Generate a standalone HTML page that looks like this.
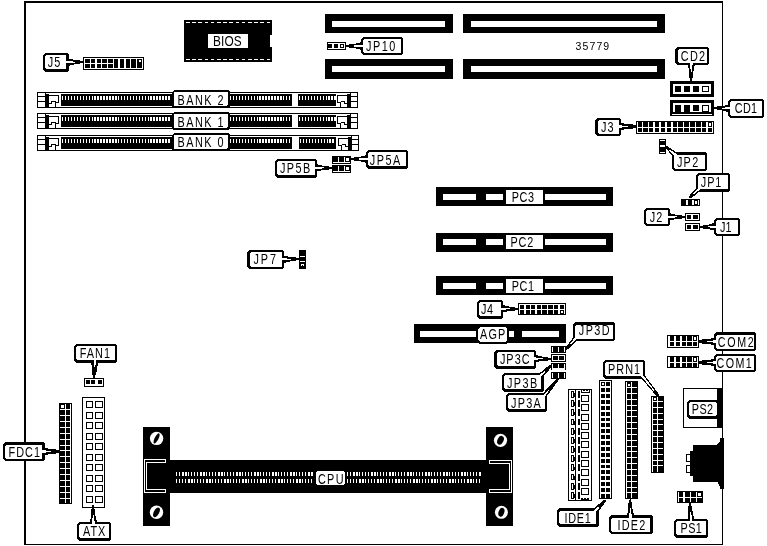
<!DOCTYPE html>
<html><head><meta charset="utf-8"><title>Motherboard layout</title>
<style>html,body{margin:0;padding:0;background:#fff}svg{display:block;will-change:transform}</style></head><body>
<svg width="767" height="546" viewBox="0 0 767 546" shape-rendering="crispEdges">
<rect x="0" y="0" width="767" height="546" fill="#fff"/>
<rect x="24" y="1" width="699" height="544" fill="#000"/>
<rect x="26" y="3" width="696" height="541" fill="#fff"/>
<rect x="184" y="20" width="88" height="42" fill="#000"/>
<rect x="270" y="35" width="2" height="12" fill="#fff"/>
<line x1="186" y1="22.5" x2="270" y2="22.5" stroke="#fff" stroke-width="1" stroke-dasharray="3.6 2.6"/>
<line x1="186" y1="59.5" x2="270" y2="59.5" stroke="#fff" stroke-width="1" stroke-dasharray="3.6 2.6"/>
<rect x="208" y="34" width="40" height="14" fill="#fff"/>
<text transform="translate(213 45.6) scale(0.85 1)" font-size="14" letter-spacing="0.1" fill="#000" text-anchor="start" font-family="Liberation Sans, sans-serif">BIOS</text>
<rect x="325" y="14" width="128" height="19" fill="#000"/>
<rect x="332" y="21" width="113" height="6" fill="#fff"/>
<rect x="325" y="59" width="128" height="20" fill="#000"/>
<rect x="332" y="66" width="113" height="6" fill="#fff"/>
<rect x="463" y="14" width="202" height="19" fill="#000"/>
<rect x="471" y="21" width="186" height="6" fill="#fff"/>
<rect x="463" y="59" width="202" height="20" fill="#000"/>
<rect x="471" y="66" width="186" height="6" fill="#fff"/>
<text transform="translate(575.6 49.7) scale(1 1)" font-size="10.5" letter-spacing="1.1" fill="#000" text-anchor="start" font-family="Liberation Sans, sans-serif">35779</text>
<rect x="327" y="42" width="19" height="8" fill="#000"/>
<rect x="328" y="43" width="17" height="6" fill="#fff"/>
<rect x="328" y="44" width="4" height="4" fill="#000"/>
<rect x="334" y="44" width="4" height="4" fill="#000"/>
<rect x="340" y="44" width="4" height="4" fill="#000"/>
<rect x="341" y="45" width="2" height="2" fill="#fff"/>
<path d="M363 37H401L403 39V53L401 55H363L361 53V39Z" fill="#000"/>
<path d="M364 39H400L401 40V52L400 53H364L363 52V40Z" fill="#fff"/>
<polygon points="362,42.3 361,42.3 354.7,43.9 349.3,44 348.7,44.9 346,45 346,47 348.7,47.1 349.3,48 354.7,48.1 361,49.7 362,49.7" fill="#000"/>
<polygon points="364.4,44.75 361,44.9 354.4,45.5 354.4,46.5 361,47.1 364.4,47.25" fill="#fff"/>
<text transform="translate(366 51) scale(0.75 1)" font-size="14.5" letter-spacing="2.01" fill="#000" text-anchor="start" font-family="Liberation Sans, sans-serif">JP10</text>
<path d="M45 53H67L69 55V70L67 72H45L43 70V55Z" fill="#000"/>
<path d="M46 55H65L66 56V68L65 69H46L45 68V56Z" fill="#fff"/>
<polygon points="68,65.9 69,65.9 74.88,64.3 79.92,64.2 80.48,63.3 83,63.2 83,61.2 80.48,61.1 79.92,60.2 74.88,60.1 69,58.5 68,58.5" fill="#000"/>
<polygon points="65.6,63.45 69,63.3 75.16,62.7 75.16,61.7 69,61.1 65.6,60.95" fill="#fff"/>
<text transform="translate(47.8 67) scale(0.75 1)" font-size="14.5" letter-spacing="1.35" fill="#000" text-anchor="start" font-family="Liberation Sans, sans-serif">J5</text>
<rect x="83" y="57" width="61" height="13" fill="#000"/>
<rect x="84" y="58" width="59" height="11" fill="#fff"/>
<rect x="85" y="59" width="5" height="4" fill="#000"/>
<rect x="85" y="64" width="5" height="4" fill="#000"/>
<rect x="91" y="59" width="4" height="4" fill="#000"/>
<rect x="91" y="64" width="4" height="4" fill="#000"/>
<rect x="97" y="59" width="4" height="4" fill="#000"/>
<rect x="97" y="64" width="4" height="4" fill="#000"/>
<rect x="102" y="59" width="5" height="4" fill="#000"/>
<rect x="102" y="64" width="5" height="4" fill="#000"/>
<rect x="108" y="59" width="5" height="4" fill="#000"/>
<rect x="108" y="64" width="5" height="4" fill="#000"/>
<rect x="114" y="59" width="4" height="9" fill="#000"/>
<rect x="120" y="59" width="4" height="9" fill="#000"/>
<rect x="126" y="59" width="4" height="9" fill="#000"/>
<rect x="131" y="59" width="5" height="9" fill="#000"/>
<rect x="137" y="59" width="5" height="9" fill="#000"/>
<rect x="139" y="60" width="2" height="2" fill="#fff"/>
<rect x="37" y="92" width="321" height="16" fill="#000"/>
<rect x="38" y="93" width="319" height="14" fill="#fff"/>
<rect x="37" y="96" width="9" height="1" fill="#000"/>
<rect x="350" y="96" width="8" height="1" fill="#000"/>
<rect x="37" y="101" width="9" height="1" fill="#000"/>
<rect x="350" y="101" width="8" height="1" fill="#000"/>
<rect x="45" y="92" width="1" height="16" fill="#000"/>
<rect x="350" y="92" width="1" height="16" fill="#000"/>
<rect x="46" y="94" width="3" height="13" fill="#000"/>
<rect x="347" y="94" width="3" height="13" fill="#000"/>
<path d="M49 95.5H58.5V102.5H55.5V107M49 103.5H51.5V101H55.5" fill="none" stroke="#000" stroke-width="1"/>
<path d="M347 95.5H337.5V102.5H340.5V107M347 103.5H344.5V101H340.5" fill="none" stroke="#000" stroke-width="1"/>
<rect x="61" y="94" width="111" height="12" fill="#000"/>
<rect x="62" y="96" width="1" height="4" fill="#fff"/>
<rect x="65" y="96" width="1" height="4" fill="#fff"/>
<rect x="68" y="96" width="1" height="4" fill="#fff"/>
<rect x="71" y="96" width="1" height="4" fill="#fff"/>
<rect x="74" y="96" width="1" height="4" fill="#fff"/>
<rect x="77" y="96" width="1" height="4" fill="#fff"/>
<rect x="80" y="96" width="1" height="4" fill="#fff"/>
<rect x="83" y="96" width="1" height="4" fill="#fff"/>
<rect x="86" y="96" width="1" height="4" fill="#fff"/>
<rect x="89" y="96" width="1" height="4" fill="#fff"/>
<rect x="92" y="96" width="1" height="4" fill="#fff"/>
<rect x="94" y="96" width="2" height="4" fill="#fff"/>
<rect x="97" y="96" width="2" height="4" fill="#fff"/>
<rect x="100" y="96" width="2" height="4" fill="#fff"/>
<rect x="103" y="96" width="2" height="4" fill="#fff"/>
<rect x="106" y="96" width="2" height="4" fill="#fff"/>
<rect x="109" y="96" width="2" height="4" fill="#fff"/>
<rect x="112" y="96" width="2" height="4" fill="#fff"/>
<rect x="115" y="96" width="2" height="4" fill="#fff"/>
<rect x="118" y="96" width="1" height="4" fill="#fff"/>
<rect x="121" y="96" width="1" height="4" fill="#fff"/>
<rect x="124" y="96" width="1" height="4" fill="#fff"/>
<rect x="127" y="96" width="1" height="4" fill="#fff"/>
<rect x="130" y="96" width="1" height="4" fill="#fff"/>
<rect x="133" y="96" width="1" height="4" fill="#fff"/>
<rect x="136" y="96" width="1" height="4" fill="#fff"/>
<rect x="139" y="96" width="1" height="4" fill="#fff"/>
<rect x="142" y="96" width="1" height="4" fill="#fff"/>
<rect x="145" y="96" width="1" height="4" fill="#fff"/>
<rect x="148" y="96" width="1" height="4" fill="#fff"/>
<rect x="150" y="96" width="2" height="4" fill="#fff"/>
<rect x="153" y="96" width="2" height="4" fill="#fff"/>
<rect x="156" y="96" width="2" height="4" fill="#fff"/>
<rect x="159" y="96" width="2" height="4" fill="#fff"/>
<rect x="162" y="96" width="2" height="4" fill="#fff"/>
<rect x="165" y="96" width="2" height="4" fill="#fff"/>
<rect x="168" y="96" width="2" height="4" fill="#fff"/>
<rect x="229" y="94" width="63" height="12" fill="#000"/>
<rect x="230" y="96" width="1" height="4" fill="#fff"/>
<rect x="233" y="96" width="1" height="4" fill="#fff"/>
<rect x="236" y="96" width="1" height="4" fill="#fff"/>
<rect x="239" y="96" width="1" height="4" fill="#fff"/>
<rect x="242" y="96" width="1" height="4" fill="#fff"/>
<rect x="245" y="96" width="1" height="4" fill="#fff"/>
<rect x="248" y="96" width="1" height="4" fill="#fff"/>
<rect x="251" y="96" width="1" height="4" fill="#fff"/>
<rect x="254" y="96" width="1" height="4" fill="#fff"/>
<rect x="257" y="96" width="1" height="4" fill="#fff"/>
<rect x="259" y="96" width="2" height="4" fill="#fff"/>
<rect x="262" y="96" width="2" height="4" fill="#fff"/>
<rect x="265" y="96" width="2" height="4" fill="#fff"/>
<rect x="268" y="96" width="2" height="4" fill="#fff"/>
<rect x="271" y="96" width="2" height="4" fill="#fff"/>
<rect x="274" y="96" width="2" height="4" fill="#fff"/>
<rect x="277" y="96" width="2" height="4" fill="#fff"/>
<rect x="280" y="96" width="2" height="4" fill="#fff"/>
<rect x="283" y="96" width="1" height="4" fill="#fff"/>
<rect x="286" y="96" width="1" height="4" fill="#fff"/>
<rect x="289" y="96" width="1" height="4" fill="#fff"/>
<rect x="298" y="94" width="38" height="12" fill="#000"/>
<rect x="299" y="96" width="1" height="4" fill="#fff"/>
<rect x="302" y="96" width="1" height="4" fill="#fff"/>
<rect x="305" y="96" width="1" height="4" fill="#fff"/>
<rect x="308" y="96" width="1" height="4" fill="#fff"/>
<rect x="311" y="96" width="1" height="4" fill="#fff"/>
<rect x="314" y="96" width="1" height="4" fill="#fff"/>
<rect x="317" y="96" width="1" height="4" fill="#fff"/>
<rect x="320" y="96" width="1" height="4" fill="#fff"/>
<rect x="323" y="96" width="1" height="4" fill="#fff"/>
<rect x="326" y="96" width="1" height="4" fill="#fff"/>
<rect x="328" y="96" width="2" height="4" fill="#fff"/>
<rect x="331" y="96" width="2" height="4" fill="#fff"/>
<rect x="334" y="96" width="2" height="4" fill="#fff"/>
<rect x="37" y="113" width="321" height="16" fill="#000"/>
<rect x="38" y="114" width="319" height="14" fill="#fff"/>
<rect x="37" y="117" width="9" height="1" fill="#000"/>
<rect x="350" y="117" width="8" height="1" fill="#000"/>
<rect x="37" y="122" width="9" height="1" fill="#000"/>
<rect x="350" y="122" width="8" height="1" fill="#000"/>
<rect x="45" y="113" width="1" height="16" fill="#000"/>
<rect x="350" y="113" width="1" height="16" fill="#000"/>
<rect x="46" y="115" width="3" height="13" fill="#000"/>
<rect x="347" y="115" width="3" height="13" fill="#000"/>
<path d="M49 116.5H58.5V123.5H55.5V128M49 124.5H51.5V122H55.5" fill="none" stroke="#000" stroke-width="1"/>
<path d="M347 116.5H337.5V123.5H340.5V128M347 124.5H344.5V122H340.5" fill="none" stroke="#000" stroke-width="1"/>
<rect x="61" y="115" width="111" height="12" fill="#000"/>
<rect x="62" y="117" width="1" height="4" fill="#fff"/>
<rect x="65" y="117" width="1" height="4" fill="#fff"/>
<rect x="68" y="117" width="1" height="4" fill="#fff"/>
<rect x="71" y="117" width="1" height="4" fill="#fff"/>
<rect x="74" y="117" width="1" height="4" fill="#fff"/>
<rect x="77" y="117" width="1" height="4" fill="#fff"/>
<rect x="80" y="117" width="1" height="4" fill="#fff"/>
<rect x="83" y="117" width="1" height="4" fill="#fff"/>
<rect x="86" y="117" width="1" height="4" fill="#fff"/>
<rect x="89" y="117" width="1" height="4" fill="#fff"/>
<rect x="92" y="117" width="1" height="4" fill="#fff"/>
<rect x="94" y="117" width="2" height="4" fill="#fff"/>
<rect x="97" y="117" width="2" height="4" fill="#fff"/>
<rect x="100" y="117" width="2" height="4" fill="#fff"/>
<rect x="103" y="117" width="2" height="4" fill="#fff"/>
<rect x="106" y="117" width="2" height="4" fill="#fff"/>
<rect x="109" y="117" width="2" height="4" fill="#fff"/>
<rect x="112" y="117" width="2" height="4" fill="#fff"/>
<rect x="115" y="117" width="2" height="4" fill="#fff"/>
<rect x="118" y="117" width="1" height="4" fill="#fff"/>
<rect x="121" y="117" width="1" height="4" fill="#fff"/>
<rect x="124" y="117" width="1" height="4" fill="#fff"/>
<rect x="127" y="117" width="1" height="4" fill="#fff"/>
<rect x="130" y="117" width="1" height="4" fill="#fff"/>
<rect x="133" y="117" width="1" height="4" fill="#fff"/>
<rect x="136" y="117" width="1" height="4" fill="#fff"/>
<rect x="139" y="117" width="1" height="4" fill="#fff"/>
<rect x="142" y="117" width="1" height="4" fill="#fff"/>
<rect x="145" y="117" width="1" height="4" fill="#fff"/>
<rect x="148" y="117" width="1" height="4" fill="#fff"/>
<rect x="150" y="117" width="2" height="4" fill="#fff"/>
<rect x="153" y="117" width="2" height="4" fill="#fff"/>
<rect x="156" y="117" width="2" height="4" fill="#fff"/>
<rect x="159" y="117" width="2" height="4" fill="#fff"/>
<rect x="162" y="117" width="2" height="4" fill="#fff"/>
<rect x="165" y="117" width="2" height="4" fill="#fff"/>
<rect x="168" y="117" width="2" height="4" fill="#fff"/>
<rect x="229" y="115" width="63" height="12" fill="#000"/>
<rect x="230" y="117" width="1" height="4" fill="#fff"/>
<rect x="233" y="117" width="1" height="4" fill="#fff"/>
<rect x="236" y="117" width="1" height="4" fill="#fff"/>
<rect x="239" y="117" width="1" height="4" fill="#fff"/>
<rect x="242" y="117" width="1" height="4" fill="#fff"/>
<rect x="245" y="117" width="1" height="4" fill="#fff"/>
<rect x="248" y="117" width="1" height="4" fill="#fff"/>
<rect x="251" y="117" width="1" height="4" fill="#fff"/>
<rect x="254" y="117" width="1" height="4" fill="#fff"/>
<rect x="257" y="117" width="1" height="4" fill="#fff"/>
<rect x="259" y="117" width="2" height="4" fill="#fff"/>
<rect x="262" y="117" width="2" height="4" fill="#fff"/>
<rect x="265" y="117" width="2" height="4" fill="#fff"/>
<rect x="268" y="117" width="2" height="4" fill="#fff"/>
<rect x="271" y="117" width="2" height="4" fill="#fff"/>
<rect x="274" y="117" width="2" height="4" fill="#fff"/>
<rect x="277" y="117" width="2" height="4" fill="#fff"/>
<rect x="280" y="117" width="2" height="4" fill="#fff"/>
<rect x="283" y="117" width="1" height="4" fill="#fff"/>
<rect x="286" y="117" width="1" height="4" fill="#fff"/>
<rect x="289" y="117" width="1" height="4" fill="#fff"/>
<rect x="298" y="115" width="38" height="12" fill="#000"/>
<rect x="299" y="117" width="1" height="4" fill="#fff"/>
<rect x="302" y="117" width="1" height="4" fill="#fff"/>
<rect x="305" y="117" width="1" height="4" fill="#fff"/>
<rect x="308" y="117" width="1" height="4" fill="#fff"/>
<rect x="311" y="117" width="1" height="4" fill="#fff"/>
<rect x="314" y="117" width="1" height="4" fill="#fff"/>
<rect x="317" y="117" width="1" height="4" fill="#fff"/>
<rect x="320" y="117" width="1" height="4" fill="#fff"/>
<rect x="323" y="117" width="1" height="4" fill="#fff"/>
<rect x="326" y="117" width="1" height="4" fill="#fff"/>
<rect x="328" y="117" width="2" height="4" fill="#fff"/>
<rect x="331" y="117" width="2" height="4" fill="#fff"/>
<rect x="334" y="117" width="2" height="4" fill="#fff"/>
<rect x="37" y="135" width="322" height="16" fill="#000"/>
<rect x="38" y="136" width="320" height="14" fill="#fff"/>
<rect x="37" y="139" width="9" height="1" fill="#000"/>
<rect x="351" y="139" width="8" height="1" fill="#000"/>
<rect x="37" y="144" width="9" height="1" fill="#000"/>
<rect x="351" y="144" width="8" height="1" fill="#000"/>
<rect x="45" y="135" width="1" height="16" fill="#000"/>
<rect x="351" y="135" width="1" height="16" fill="#000"/>
<rect x="46" y="137" width="3" height="13" fill="#000"/>
<rect x="348" y="137" width="3" height="13" fill="#000"/>
<path d="M49 138.5H58.5V145.5H55.5V150M49 146.5H51.5V144H55.5" fill="none" stroke="#000" stroke-width="1"/>
<path d="M348 138.5H338.5V145.5H341.5V150M348 146.5H345.5V144H341.5" fill="none" stroke="#000" stroke-width="1"/>
<rect x="61" y="137" width="111" height="12" fill="#000"/>
<rect x="62" y="139" width="1" height="4" fill="#fff"/>
<rect x="65" y="139" width="1" height="4" fill="#fff"/>
<rect x="68" y="139" width="1" height="4" fill="#fff"/>
<rect x="71" y="139" width="1" height="4" fill="#fff"/>
<rect x="74" y="139" width="1" height="4" fill="#fff"/>
<rect x="77" y="139" width="1" height="4" fill="#fff"/>
<rect x="80" y="139" width="1" height="4" fill="#fff"/>
<rect x="83" y="139" width="1" height="4" fill="#fff"/>
<rect x="86" y="139" width="1" height="4" fill="#fff"/>
<rect x="89" y="139" width="1" height="4" fill="#fff"/>
<rect x="92" y="139" width="1" height="4" fill="#fff"/>
<rect x="94" y="139" width="2" height="4" fill="#fff"/>
<rect x="97" y="139" width="2" height="4" fill="#fff"/>
<rect x="100" y="139" width="2" height="4" fill="#fff"/>
<rect x="103" y="139" width="2" height="4" fill="#fff"/>
<rect x="106" y="139" width="2" height="4" fill="#fff"/>
<rect x="109" y="139" width="2" height="4" fill="#fff"/>
<rect x="112" y="139" width="2" height="4" fill="#fff"/>
<rect x="115" y="139" width="2" height="4" fill="#fff"/>
<rect x="118" y="139" width="1" height="4" fill="#fff"/>
<rect x="121" y="139" width="1" height="4" fill="#fff"/>
<rect x="124" y="139" width="1" height="4" fill="#fff"/>
<rect x="127" y="139" width="1" height="4" fill="#fff"/>
<rect x="130" y="139" width="1" height="4" fill="#fff"/>
<rect x="133" y="139" width="1" height="4" fill="#fff"/>
<rect x="136" y="139" width="1" height="4" fill="#fff"/>
<rect x="139" y="139" width="1" height="4" fill="#fff"/>
<rect x="142" y="139" width="1" height="4" fill="#fff"/>
<rect x="145" y="139" width="1" height="4" fill="#fff"/>
<rect x="148" y="139" width="1" height="4" fill="#fff"/>
<rect x="150" y="139" width="2" height="4" fill="#fff"/>
<rect x="153" y="139" width="2" height="4" fill="#fff"/>
<rect x="156" y="139" width="2" height="4" fill="#fff"/>
<rect x="159" y="139" width="2" height="4" fill="#fff"/>
<rect x="162" y="139" width="2" height="4" fill="#fff"/>
<rect x="165" y="139" width="2" height="4" fill="#fff"/>
<rect x="168" y="139" width="2" height="4" fill="#fff"/>
<rect x="229" y="137" width="63" height="12" fill="#000"/>
<rect x="230" y="139" width="1" height="4" fill="#fff"/>
<rect x="233" y="139" width="1" height="4" fill="#fff"/>
<rect x="236" y="139" width="1" height="4" fill="#fff"/>
<rect x="239" y="139" width="1" height="4" fill="#fff"/>
<rect x="242" y="139" width="1" height="4" fill="#fff"/>
<rect x="245" y="139" width="1" height="4" fill="#fff"/>
<rect x="248" y="139" width="1" height="4" fill="#fff"/>
<rect x="251" y="139" width="1" height="4" fill="#fff"/>
<rect x="254" y="139" width="1" height="4" fill="#fff"/>
<rect x="257" y="139" width="1" height="4" fill="#fff"/>
<rect x="259" y="139" width="2" height="4" fill="#fff"/>
<rect x="262" y="139" width="2" height="4" fill="#fff"/>
<rect x="265" y="139" width="2" height="4" fill="#fff"/>
<rect x="268" y="139" width="2" height="4" fill="#fff"/>
<rect x="271" y="139" width="2" height="4" fill="#fff"/>
<rect x="274" y="139" width="2" height="4" fill="#fff"/>
<rect x="277" y="139" width="2" height="4" fill="#fff"/>
<rect x="280" y="139" width="2" height="4" fill="#fff"/>
<rect x="283" y="139" width="1" height="4" fill="#fff"/>
<rect x="286" y="139" width="1" height="4" fill="#fff"/>
<rect x="289" y="139" width="1" height="4" fill="#fff"/>
<rect x="299" y="137" width="37" height="12" fill="#000"/>
<rect x="300" y="139" width="1" height="4" fill="#fff"/>
<rect x="303" y="139" width="1" height="4" fill="#fff"/>
<rect x="306" y="139" width="1" height="4" fill="#fff"/>
<rect x="309" y="139" width="1" height="4" fill="#fff"/>
<rect x="312" y="139" width="1" height="4" fill="#fff"/>
<rect x="315" y="139" width="1" height="4" fill="#fff"/>
<rect x="318" y="139" width="1" height="4" fill="#fff"/>
<rect x="321" y="139" width="1" height="4" fill="#fff"/>
<rect x="324" y="139" width="1" height="4" fill="#fff"/>
<rect x="327" y="139" width="1" height="4" fill="#fff"/>
<rect x="329" y="139" width="2" height="4" fill="#fff"/>
<rect x="332" y="139" width="2" height="4" fill="#fff"/>
<path d="M174 90H228.4L230.4 92V106.4L228.4 108.4H174L172 106.4V92Z" fill="#000"/>
<path d="M174.5 91.5H226.9L227.9 92.5V104.9L226.9 105.9H174.5L173.5 104.9V92.5Z" fill="#fff"/>
<text transform="translate(177.5 104.9) scale(0.75 1)" font-size="14.5" letter-spacing="1.95" fill="#000" text-anchor="start" font-family="Liberation Sans, sans-serif">BANK 2</text>
<path d="M174 112.2H228.4L230.4 114.2V128.2L228.4 130.2H174L172 128.2V114.2Z" fill="#000"/>
<path d="M174.5 113.7H226.9L227.9 114.7V126.7L226.9 127.7H174.5L173.5 126.7V114.7Z" fill="#fff"/>
<text transform="translate(177.5 126.8) scale(0.75 1)" font-size="14.5" letter-spacing="1.95" fill="#000" text-anchor="start" font-family="Liberation Sans, sans-serif">BANK 1</text>
<path d="M174 133.3H228.4L230.4 135.3V149.4L228.4 151.4H174L172 149.4V135.3Z" fill="#000"/>
<path d="M174.5 134.8H226.9L227.9 135.8V147.9L226.9 148.9H174.5L173.5 147.9V135.8Z" fill="#fff"/>
<text transform="translate(177.5 147) scale(0.75 1)" font-size="14.5" letter-spacing="1.95" fill="#000" text-anchor="start" font-family="Liberation Sans, sans-serif">BANK 0</text>
<rect x="332" y="156" width="19" height="8" fill="#000"/>
<rect x="338" y="157" width="1" height="5" fill="#fff"/>
<rect x="344" y="157" width="1" height="5" fill="#fff"/>
<rect x="333" y="162" width="17" height="1" fill="#fff"/>
<rect x="346" y="158" width="3" height="3" fill="#fff"/>
<rect x="332" y="165" width="19" height="8" fill="#000"/>
<rect x="338" y="166" width="1" height="5" fill="#fff"/>
<rect x="344" y="166" width="1" height="5" fill="#fff"/>
<rect x="333" y="171" width="17" height="1" fill="#fff"/>
<rect x="346" y="167" width="3" height="3" fill="#fff"/>
<path d="M368 150H406L408 152V167L406 169H368L366 167V152Z" fill="#000"/>
<path d="M369 152H405L406 153V165L405 166H369L368 165V153Z" fill="#fff"/>
<polygon points="367,155.3 366,155.3 359.7,156.9 354.3,157 353.7,157.9 351,158 351,160 353.7,160.1 354.3,161 359.7,161.1 366,162.7 367,162.7" fill="#000"/>
<polygon points="369.4,157.75 366,157.9 359.4,158.5 359.4,159.5 366,160.1 369.4,160.25" fill="#fff"/>
<text transform="translate(369.8 164.8) scale(0.75 1)" font-size="14.5" letter-spacing="1.96" fill="#000" text-anchor="start" font-family="Liberation Sans, sans-serif">JP5A</text>
<path d="M277 159H315L317 161V176L315 178H277L275 176V161Z" fill="#000"/>
<path d="M278 161H314L315 162V174L314 175H278L277 174V162Z" fill="#fff"/>
<polygon points="316,171.6 317,171.6 323.3,170 328.7,169.9 329.3,169 332,168.9 332,166.9 329.3,166.8 328.7,165.9 323.3,165.8 317,164.2 316,164.2" fill="#000"/>
<polygon points="313.6,169.15 317,169 323.6,168.4 323.6,167.4 317,166.8 313.6,166.65" fill="#fff"/>
<text transform="translate(279.9 172.65) scale(0.75 1)" font-size="14.5" letter-spacing="1.92" fill="#000" text-anchor="start" font-family="Liberation Sans, sans-serif">JP5B</text>
<path d="M249 250H282L284 252V267L282 269H249L247 267V252Z" fill="#000"/>
<path d="M251 252H281L282 253V266L281 267H251L250 266V253Z" fill="#fff"/>
<polygon points="283,263 284,263 290.3,261.4 295.7,261.3 296.3,260.4 299,260.3 299,258.3 296.3,258.2 295.7,257.3 290.3,257.2 284,255.6 283,255.6" fill="#000"/>
<polygon points="280.6,260.55 284,260.4 290.6,259.8 290.6,258.8 284,258.2 280.6,258.05" fill="#fff"/>
<text transform="translate(253.6 263.8) scale(0.75 1)" font-size="14.5" letter-spacing="2.44" fill="#000" text-anchor="start" font-family="Liberation Sans, sans-serif">JP7</text>
<rect x="299" y="250" width="7" height="19" fill="#000"/>
<rect x="300" y="256" width="5" height="1" fill="#fff"/>
<rect x="300" y="261" width="5" height="1" fill="#fff"/>
<rect x="301" y="264" width="3" height="2" fill="#fff"/>
<rect x="302" y="265" width="1" height="1" fill="#000"/>
<path d="M677 47H707L709 49V63L707 65H677L675 63V49Z" fill="#000"/>
<path d="M679 49H706L707 50V62L706 63H679L678 62V50Z" fill="#fff"/>
<polygon points="688.03,63.92 688,64.92 689.13,71.67 689.09,77.43 689.97,78.09 690,80.98 692,81.02 692.17,78.15 693.09,77.53 693.33,71.77 694.8,65.08 694.82,64.09" fill="#000"/>
<polygon points="690.24,61.57 690.3,64.97 690.72,72.19 691.72,72.21 692.5,65.03 692.73,61.63" fill="#fff"/>
<text transform="translate(680.8 60.9) scale(0.75 1)" font-size="14.5" letter-spacing="1.69" fill="#000" text-anchor="start" font-family="Liberation Sans, sans-serif">CD2</text>
<rect x="670" y="81" width="44" height="16" fill="#000"/>
<rect x="673" y="84" width="38" height="10" fill="#fff"/>
<rect x="675" y="86" width="6" height="6" fill="#000"/>
<rect x="684" y="86" width="6" height="6" fill="#000"/>
<rect x="693" y="86" width="6" height="6" fill="#000"/>
<rect x="702" y="86" width="7" height="6" fill="#000"/>
<rect x="703" y="87" width="5" height="4" fill="#fff"/>
<rect x="670" y="100" width="44" height="16" fill="#000"/>
<rect x="673" y="103" width="38" height="9" fill="#fff"/>
<rect x="675" y="105" width="6" height="7" fill="#000"/>
<rect x="684" y="105" width="6" height="7" fill="#000"/>
<rect x="693" y="105" width="6" height="6" fill="#000"/>
<rect x="702" y="105" width="7" height="7" fill="#000"/>
<rect x="703" y="106" width="5" height="5" fill="#fff"/>
<rect x="672" y="114" width="40" height="1" fill="#fff"/>
<path d="M730 99H762L764 101V116L762 118H730L728 116V101Z" fill="#000"/>
<path d="M731 101H761L762 102V115L761 116H731L730 115V102Z" fill="#fff"/>
<polygon points="729,104.6 728,104.6 722.12,106.2 717.08,106.3 716.52,107.2 714,107.3 714,109.3 716.52,109.4 717.08,110.3 722.12,110.4 728,112 729,112" fill="#000"/>
<polygon points="731.4,107.05 728,107.2 721.84,107.8 721.84,108.8 728,109.4 731.4,109.55" fill="#fff"/>
<text transform="translate(734.8 113) scale(0.75 1)" font-size="14.5" letter-spacing="0.36" fill="#000" text-anchor="start" font-family="Liberation Sans, sans-serif">CD1</text>
<path d="M597 118H619L621 120V134L619 136H597L595 134V120Z" fill="#000"/>
<path d="M599 120H618L619 121V133L618 134H599L598 133V121Z" fill="#fff"/>
<polygon points="620,130.2 621,130.2 627.3,128.6 632.7,128.5 633.3,127.6 636,127.5 636,125.5 633.3,125.4 632.7,124.5 627.3,124.4 621,122.8 620,122.8" fill="#000"/>
<polygon points="617.6,127.75 621,127.6 627.6,127 627.6,126 621,125.4 617.6,125.25" fill="#fff"/>
<text transform="translate(601 131.7) scale(0.75 1)" font-size="14.5" letter-spacing="1.35" fill="#000" text-anchor="start" font-family="Liberation Sans, sans-serif">J3</text>
<rect x="636" y="121" width="78" height="13" fill="#000"/>
<rect x="637" y="122" width="76" height="11" fill="#fff"/>
<rect x="638" y="122" width="4" height="5" fill="#000"/>
<rect x="638" y="128" width="4" height="4" fill="#000"/>
<rect x="643" y="122" width="5" height="5" fill="#000"/>
<rect x="643" y="128" width="5" height="4" fill="#000"/>
<rect x="649" y="122" width="4" height="5" fill="#000"/>
<rect x="649" y="128" width="4" height="4" fill="#000"/>
<rect x="655" y="122" width="4" height="5" fill="#000"/>
<rect x="655" y="128" width="4" height="4" fill="#000"/>
<rect x="661" y="122" width="4" height="5" fill="#000"/>
<rect x="661" y="128" width="4" height="4" fill="#000"/>
<rect x="667" y="122" width="4" height="5" fill="#000"/>
<rect x="667" y="128" width="4" height="4" fill="#000"/>
<rect x="673" y="122" width="4" height="5" fill="#000"/>
<rect x="673" y="128" width="4" height="4" fill="#000"/>
<rect x="678" y="122" width="5" height="5" fill="#000"/>
<rect x="678" y="128" width="5" height="4" fill="#000"/>
<rect x="684" y="122" width="5" height="5" fill="#000"/>
<rect x="684" y="128" width="5" height="4" fill="#000"/>
<rect x="690" y="122" width="5" height="5" fill="#000"/>
<rect x="690" y="128" width="5" height="4" fill="#000"/>
<rect x="696" y="122" width="5" height="5" fill="#000"/>
<rect x="696" y="128" width="5" height="4" fill="#000"/>
<rect x="702" y="122" width="4" height="5" fill="#000"/>
<rect x="702" y="128" width="4" height="4" fill="#000"/>
<rect x="708" y="122" width="4" height="5" fill="#000"/>
<rect x="708" y="128" width="4" height="4" fill="#000"/>
<rect x="709" y="123" width="2" height="3" fill="#fff"/>
<path d="M674 152H705L707 154V169L705 171H674L672 169V154Z" fill="#000"/>
<path d="M675 155H704L705 156V168L704 169H675L674 168V156Z" fill="#fff"/>
<polygon points="676.36,152.4 675.61,151.74 671.2,148.82 668.17,146.71 666.59,146.12 665.41,147.48 666.2,148.96 668.7,151.68 672.19,155.66 672.94,156.32" fill="#000"/>
<polygon points="677.38,154.88 674.76,152.72 669.88,149.53 669.23,150.28 673.04,154.68 675.54,156.99" fill="#fff"/>
<text transform="translate(676.9 166.7) scale(0.75 1)" font-size="14.5" letter-spacing="1.71" fill="#000" text-anchor="start" font-family="Liberation Sans, sans-serif">JP2</text>
<rect x="659" y="139" width="7" height="15" fill="#000"/>
<rect x="660" y="140" width="5" height="1" fill="#fff"/>
<rect x="660" y="145" width="5" height="2" fill="#fff"/>
<rect x="660" y="152" width="5" height="1" fill="#fff"/>
<path d="M698 173H728L730 175V190L728 192H698L696 190V175Z" fill="#000"/>
<path d="M699 175H727L728 176V188L727 189H699L698 188V176Z" fill="#fff"/>
<polygon points="696.82,187.81 696.09,188.5 692.15,192.62 689.52,195.64 688.68,197.24 689.92,198.56 691.57,197.82 694.75,195.38 699.11,191.7 699.84,191.02" fill="#000"/>
<polygon points="699.39,187.04 696.98,189.44 693.11,193.64 693.79,194.36 698.22,190.76 700.76,188.5" fill="#fff"/>
<text transform="translate(700.8 186.9) scale(0.75 1)" font-size="14.5" letter-spacing="1.24" fill="#000" text-anchor="start" font-family="Liberation Sans, sans-serif">JP1</text>
<rect x="681" y="199" width="19" height="7" fill="#000"/>
<rect x="686" y="200" width="2" height="5" fill="#fff"/>
<rect x="692" y="200" width="2" height="5" fill="#fff"/>
<rect x="695" y="201" width="2" height="3" fill="#fff"/>
<rect x="698" y="200" width="1" height="5" fill="#fff"/>
<path d="M646 208H668L670 210V224L668 226H646L644 224V210Z" fill="#000"/>
<path d="M647 210H667L668 211V223L667 224H647L646 223V211Z" fill="#fff"/>
<polygon points="669,220.6 670,220.6 676.3,219 681.7,218.9 682.3,218 685,217.9 685,215.9 682.3,215.8 681.7,214.9 676.3,214.8 670,213.2 669,213.2" fill="#000"/>
<polygon points="666.6,218.15 670,218 676.6,217.4 676.6,216.4 670,215.8 666.6,215.65" fill="#fff"/>
<text transform="translate(649.8 221.7) scale(0.75 1)" font-size="14.5" letter-spacing="1.35" fill="#000" text-anchor="start" font-family="Liberation Sans, sans-serif">J2</text>
<rect x="685" y="213" width="15" height="8" fill="#000"/>
<rect x="686" y="214" width="13" height="6" fill="#fff"/>
<rect x="687" y="215" width="4" height="4" fill="#000"/>
<rect x="693" y="215" width="5" height="4" fill="#000"/>
<rect x="685" y="223" width="15" height="8" fill="#000"/>
<rect x="686" y="224" width="13" height="6" fill="#fff"/>
<rect x="687" y="225" width="4" height="4" fill="#000"/>
<rect x="693" y="225" width="5" height="4" fill="#000"/>
<path d="M716 218H738L740 220V234L738 236H716L714 234V220Z" fill="#000"/>
<path d="M717 220H737L738 221V233L737 234H717L716 233V221Z" fill="#fff"/>
<polygon points="715,223.1 714,223.1 708.12,224.7 703.08,224.8 702.52,225.7 700,225.8 700,227.8 702.52,227.9 703.08,228.8 708.12,228.9 714,230.5 715,230.5" fill="#000"/>
<polygon points="717.4,225.55 714,225.7 707.84,226.3 707.84,227.3 714,227.9 717.4,228.05" fill="#fff"/>
<text transform="translate(719.9 231.75) scale(0.75 1)" font-size="14.5" letter-spacing="0.29" fill="#000" text-anchor="start" font-family="Liberation Sans, sans-serif">J1</text>
<rect x="436" y="187" width="177" height="19" fill="#000"/>
<rect x="443" y="194" width="33" height="6" fill="#fff"/>
<rect x="486" y="194" width="17" height="6" fill="#fff"/>
<rect x="545" y="194" width="61" height="6" fill="#fff"/>
<rect x="506" y="190" width="37" height="14" fill="#fff"/>
<text transform="translate(511.8 201.6) scale(0.75 1)" font-size="14.5" letter-spacing="0.77" fill="#000" text-anchor="start" font-family="Liberation Sans, sans-serif">PC3</text>
<rect x="436" y="233" width="177" height="19" fill="#000"/>
<rect x="443" y="239" width="33" height="6" fill="#fff"/>
<rect x="486" y="239" width="17" height="6" fill="#fff"/>
<rect x="545" y="239" width="61" height="6" fill="#fff"/>
<rect x="506" y="235" width="37" height="14" fill="#fff"/>
<text transform="translate(510.6 246.8) scale(0.75 1)" font-size="14.5" letter-spacing="1.03" fill="#000" text-anchor="start" font-family="Liberation Sans, sans-serif">PC2</text>
<rect x="436" y="276" width="177" height="19" fill="#000"/>
<rect x="443" y="283" width="33" height="6" fill="#fff"/>
<rect x="486" y="283" width="17" height="6" fill="#fff"/>
<rect x="545" y="283" width="61" height="6" fill="#fff"/>
<rect x="506" y="279" width="37" height="14" fill="#fff"/>
<text transform="translate(511.8 290.7) scale(0.75 1)" font-size="14.5" letter-spacing="0.77" fill="#000" text-anchor="start" font-family="Liberation Sans, sans-serif">PC1</text>
<path d="M479 300H501L503 302V317L501 319H479L477 317V302Z" fill="#000"/>
<path d="M480 302H500L501 303V315L500 316H480L479 315V303Z" fill="#fff"/>
<polygon points="502,312.4 503,312.4 509.3,310.8 514.7,310.7 515.3,309.8 518,309.7 518,307.7 515.3,307.6 514.7,306.7 509.3,306.6 503,305 502,305" fill="#000"/>
<polygon points="499.6,309.95 503,309.8 509.6,309.2 509.6,308.2 503,307.6 499.6,307.45" fill="#fff"/>
<text transform="translate(481 313.7) scale(0.75 1)" font-size="14.5" letter-spacing="0.82" fill="#000" text-anchor="start" font-family="Liberation Sans, sans-serif">J4</text>
<rect x="518" y="303" width="48" height="12" fill="#000"/>
<rect x="519" y="304" width="46" height="10" fill="#fff"/>
<rect x="520" y="305" width="4" height="4" fill="#000"/>
<rect x="520" y="310" width="4" height="4" fill="#000"/>
<rect x="526" y="305" width="4" height="4" fill="#000"/>
<rect x="526" y="310" width="4" height="4" fill="#000"/>
<rect x="531" y="305" width="4" height="4" fill="#000"/>
<rect x="531" y="310" width="4" height="4" fill="#000"/>
<rect x="537" y="305" width="4" height="4" fill="#000"/>
<rect x="537" y="310" width="4" height="4" fill="#000"/>
<rect x="542" y="305" width="5" height="4" fill="#000"/>
<rect x="542" y="310" width="5" height="4" fill="#000"/>
<rect x="548" y="305" width="5" height="4" fill="#000"/>
<rect x="548" y="310" width="5" height="4" fill="#000"/>
<rect x="554" y="305" width="4" height="4" fill="#000"/>
<rect x="554" y="310" width="4" height="4" fill="#000"/>
<rect x="560" y="305" width="4" height="4" fill="#000"/>
<rect x="560" y="310" width="4" height="4" fill="#000"/>
<rect x="561" y="311" width="2" height="2" fill="#fff"/>
<rect x="414" y="324" width="152" height="19" fill="#000"/>
<rect x="420" y="331" width="56" height="6" fill="#fff"/>
<rect x="509" y="331" width="5" height="6" fill="#fff"/>
<rect x="522" y="331" width="37" height="6" fill="#fff"/>
<path d="M479 327H506L508 329V342L506 344H479L477 342V329Z" fill="#000"/>
<path d="M480 327H505L507 329V340L505 342H480L478 340V329Z" fill="#fff"/>
<text transform="translate(480.1 339) scale(0.75 1)" font-size="14.5" letter-spacing="1.55" fill="#000" text-anchor="start" font-family="Liberation Sans, sans-serif">AGP</text>
<rect x="551" y="346" width="15" height="7" fill="#000"/>
<rect x="552" y="347" width="1" height="5" fill="#fff"/>
<rect x="558" y="347" width="1" height="5" fill="#fff"/>
<rect x="564" y="347" width="1" height="5" fill="#fff"/>
<rect x="551" y="354" width="15" height="8" fill="#000"/>
<rect x="552" y="355" width="13" height="6" fill="#fff"/>
<rect x="553" y="356" width="5" height="4" fill="#000"/>
<rect x="559" y="356" width="5" height="4" fill="#000"/>
<rect x="551" y="363" width="15" height="7" fill="#000"/>
<rect x="552" y="364" width="1" height="4" fill="#fff"/>
<rect x="558" y="364" width="1" height="4" fill="#fff"/>
<rect x="564" y="364" width="1" height="4" fill="#fff"/>
<rect x="552" y="368" width="13" height="2" fill="#fff"/>
<rect x="551" y="372" width="15" height="7" fill="#000"/>
<rect x="552" y="373" width="1" height="5" fill="#fff"/>
<rect x="558" y="373" width="1" height="5" fill="#fff"/>
<rect x="564" y="373" width="1" height="5" fill="#fff"/>
<path d="M575 322H613L615 324V339L613 341H575L573 339V324Z" fill="#000"/>
<path d="M576 325H612L613 326V338L612 339H576L575 338V326Z" fill="#fff"/>
<polygon points="573.54,337.23 572.87,337.98 568.72,343.29 565.91,347.09 565.02,349 566.38,350.2 568.16,349.08 571.58,345.81 576.33,341.02 576.99,340.27" fill="#000"/>
<polygon points="576.02,336.22 573.85,338.84 570.22,343.71 570.97,344.38 575.35,340.16 577.67,337.68" fill="#fff"/>
<text transform="translate(578.8 334.9) scale(0.75 1)" font-size="14.5" letter-spacing="1.87" fill="#000" text-anchor="start" font-family="Liberation Sans, sans-serif">JP3D</text>
<path d="M496 350H534L536 352V367L534 369H496L494 367V352Z" fill="#000"/>
<path d="M498 352H533L534 353V365L533 366H498L497 365V353Z" fill="#fff"/>
<polygon points="535,362.3 536,362.3 542.3,360.7 547.7,360.6 548.3,359.7 551,359.6 551,357.6 548.3,357.5 547.7,356.6 542.3,356.5 536,354.9 535,354.9" fill="#000"/>
<polygon points="532.6,359.85 536,359.7 542.6,359.1 542.6,358.1 536,357.5 532.6,357.35" fill="#fff"/>
<text transform="translate(499.9 363.8) scale(0.75 1)" font-size="14.5" letter-spacing="1.38" fill="#000" text-anchor="start" font-family="Liberation Sans, sans-serif">JP3C</text>
<path d="M504 373H542L544 375V390L542 392H504L502 390V375Z" fill="#000"/>
<path d="M505 375H540L541 376V388L540 389H505L504 388V376Z" fill="#fff"/>
<polygon points="542.95,376.72 543.67,376.03 547.87,371.27 550.78,367.9 551.73,366.15 550.47,364.85 548.69,365.74 545.23,368.53 540.33,372.57 539.61,373.27" fill="#000"/>
<polygon points="540.39,377.53 542.76,375.09 545.08,372.02 544.38,371.3 541.24,373.51 538.72,375.8" fill="#fff"/>
<text transform="translate(506.9 387.6) scale(0.75 1)" font-size="14.5" letter-spacing="2.0" fill="#000" text-anchor="start" font-family="Liberation Sans, sans-serif">JP3B</text>
<path d="M508 393H545L547 395V410L545 412H508L506 410V395Z" fill="#000"/>
<path d="M509 395H544L545 396V408L544 409H509L508 408V396Z" fill="#fff"/>
<polygon points="546.53,396.59 547.16,395.82 553.22,387.6 557.43,381.82 558.9,379.07 557.5,377.93 555.1,379.92 550.28,385.2 543.44,392.78 542.81,393.56" fill="#000"/>
<polygon points="544.08,397.69 546.15,395 548.91,390.67 548.14,390.03 544.45,393.6 542.22,396.17" fill="#fff"/>
<text transform="translate(510.9 408) scale(0.75 1)" font-size="14.5" letter-spacing="1.78" fill="#000" text-anchor="start" font-family="Liberation Sans, sans-serif">JP3A</text>
<rect x="667" y="335" width="32" height="13" fill="#000"/>
<rect x="668" y="336" width="30" height="11" fill="#fff"/>
<rect x="670" y="336" width="4" height="5" fill="#000"/>
<rect x="670" y="342" width="4" height="4" fill="#000"/>
<rect x="676" y="336" width="4" height="5" fill="#000"/>
<rect x="676" y="342" width="4" height="4" fill="#000"/>
<rect x="682" y="336" width="4" height="5" fill="#000"/>
<rect x="682" y="342" width="4" height="4" fill="#000"/>
<rect x="687" y="336" width="5" height="5" fill="#000"/>
<rect x="687" y="342" width="5" height="4" fill="#000"/>
<rect x="693" y="336" width="4" height="5" fill="#000"/>
<rect x="693" y="342" width="4" height="4" fill="#000"/>
<rect x="694" y="337" width="2" height="3" fill="#fff"/>
<rect x="667" y="356" width="32" height="12" fill="#000"/>
<rect x="668" y="357" width="30" height="10" fill="#fff"/>
<rect x="670" y="357" width="4" height="5" fill="#000"/>
<rect x="670" y="363" width="4" height="4" fill="#000"/>
<rect x="676" y="357" width="4" height="5" fill="#000"/>
<rect x="676" y="363" width="4" height="4" fill="#000"/>
<rect x="682" y="357" width="4" height="5" fill="#000"/>
<rect x="682" y="363" width="4" height="4" fill="#000"/>
<rect x="687" y="357" width="5" height="5" fill="#000"/>
<rect x="687" y="363" width="5" height="4" fill="#000"/>
<rect x="693" y="357" width="4" height="5" fill="#000"/>
<rect x="693" y="363" width="4" height="4" fill="#000"/>
<rect x="694" y="358" width="2" height="3" fill="#fff"/>
<path d="M716 332H754L756 334V349L754 351H716L714 349V334Z" fill="#000"/>
<path d="M717 335H753L754 336V348L753 349H717L716 348V336Z" fill="#fff"/>
<polygon points="715,337.8 714,337.8 707.7,339.4 702.3,339.5 701.7,340.4 699,340.5 699,342.5 701.7,342.6 702.3,343.5 707.7,343.6 714,345.2 715,345.2" fill="#000"/>
<polygon points="717.4,340.25 714,340.4 707.4,341 707.4,342 714,342.6 717.4,342.75" fill="#fff"/>
<text transform="translate(717.8 346.9) scale(0.74 1)" font-size="14.5" letter-spacing="2.25" fill="#000" text-anchor="start" font-family="Liberation Sans, sans-serif">COM2</text>
<path d="M716 354H754L756 356V370L754 372H716L714 370V356Z" fill="#000"/>
<path d="M717 356H753L754 357V369L753 370H717L716 369V357Z" fill="#fff"/>
<polygon points="715,358.8 714,358.8 707.7,360.4 702.3,360.5 701.7,361.4 699,361.5 699,363.5 701.7,363.6 702.3,364.5 707.7,364.6 714,366.2 715,366.2" fill="#000"/>
<polygon points="717.4,361.25 714,361.4 707.4,362 707.4,363 714,363.6 717.4,363.75" fill="#fff"/>
<text transform="translate(716.6 367.8) scale(0.74 1)" font-size="14.5" letter-spacing="1.89" fill="#000" text-anchor="start" font-family="Liberation Sans, sans-serif">COM1</text>
<rect x="683" y="388" width="39" height="40" fill="#000"/>
<rect x="684" y="389" width="37" height="38" fill="#fff"/>
<rect x="717" y="388" width="6" height="40" fill="#000"/>
<path d="M689 400H717L719 402V417L717 419H689L687 417V402Z" fill="#000"/>
<path d="M690 402.4H716L717 403.4V414.8L716 415.8H690L689 414.8V403.4Z" fill="#fff"/>
<text transform="translate(691.75 413.6) scale(0.75 1)" font-size="14.5" letter-spacing="0.53" fill="#000" text-anchor="start" font-family="Liberation Sans, sans-serif">PS2</text>
<path d="M720.2 437.9H724V489H720.2V486.8L717 481.7H693.1V475.8H690.3V450.9H693.1V445H717L720.2 441.6Z" fill="#000"/>
<rect x="686" y="454" width="5" height="8" fill="#000"/>
<rect x="687" y="455" width="3" height="6" fill="#fff"/>
<rect x="686" y="465" width="5" height="8" fill="#000"/>
<rect x="687" y="466" width="3" height="6" fill="#fff"/>
<rect x="677" y="491" width="26" height="12" fill="#000"/>
<rect x="678" y="492" width="24" height="10" fill="#fff"/>
<rect x="679" y="492" width="4" height="5" fill="#000"/>
<rect x="679" y="498" width="4" height="4" fill="#000"/>
<rect x="685" y="492" width="5" height="5" fill="#000"/>
<rect x="685" y="498" width="5" height="4" fill="#000"/>
<rect x="691" y="492" width="5" height="5" fill="#000"/>
<rect x="691" y="498" width="5" height="4" fill="#000"/>
<rect x="697" y="492" width="5" height="5" fill="#000"/>
<rect x="697" y="498" width="5" height="4" fill="#000"/>
<rect x="698" y="493" width="3" height="3" fill="#fff"/>
<path d="M676 519H706L708 521V536L706 538H676L674 536V521Z" fill="#000"/>
<path d="M677 521H705L706 522V534L705 535H677L676 534V522Z" fill="#fff"/>
<polygon points="694.35,519.81 694.29,518.81 692.62,512.16 692.19,506.41 691.26,505.82 691,502.94 689,503.06 689.06,505.94 688.2,506.63 688.43,512.4 687.51,519.19 687.56,520.19" fill="#000"/>
<polygon points="692.34,522.32 692,518.94 690.99,511.77 690,511.83 689.8,519.06 689.84,522.46" fill="#fff"/>
<text transform="translate(680.6 532.8) scale(0.75 1)" font-size="14.5" letter-spacing="0.43" fill="#000" text-anchor="start" font-family="Liberation Sans, sans-serif">PS1</text>
<rect x="599" y="380" width="13" height="119" fill="#000"/>
<rect x="600" y="381" width="11" height="117" fill="#fff"/>
<rect x="601" y="382" width="4" height="4" fill="#000"/>
<rect x="606" y="382" width="4" height="4" fill="#000"/>
<rect x="601" y="388" width="4" height="4" fill="#000"/>
<rect x="606" y="388" width="4" height="4" fill="#000"/>
<rect x="601" y="394" width="4" height="4" fill="#000"/>
<rect x="606" y="394" width="4" height="4" fill="#000"/>
<rect x="601" y="400" width="4" height="4" fill="#000"/>
<rect x="606" y="400" width="4" height="4" fill="#000"/>
<rect x="601" y="406" width="4" height="4" fill="#000"/>
<rect x="606" y="406" width="4" height="4" fill="#000"/>
<rect x="601" y="412" width="4" height="4" fill="#000"/>
<rect x="606" y="412" width="4" height="4" fill="#000"/>
<rect x="601" y="418" width="4" height="3" fill="#000"/>
<rect x="606" y="418" width="4" height="3" fill="#000"/>
<rect x="601" y="423" width="4" height="4" fill="#000"/>
<rect x="606" y="423" width="4" height="4" fill="#000"/>
<rect x="601" y="429" width="4" height="4" fill="#000"/>
<rect x="606" y="429" width="4" height="4" fill="#000"/>
<rect x="601" y="435" width="4" height="4" fill="#000"/>
<rect x="606" y="435" width="4" height="4" fill="#000"/>
<rect x="601" y="441" width="4" height="4" fill="#000"/>
<rect x="606" y="441" width="4" height="4" fill="#000"/>
<rect x="601" y="447" width="4" height="4" fill="#000"/>
<rect x="606" y="447" width="4" height="4" fill="#000"/>
<rect x="601" y="453" width="4" height="4" fill="#000"/>
<rect x="606" y="453" width="4" height="4" fill="#000"/>
<rect x="601" y="459" width="4" height="4" fill="#000"/>
<rect x="606" y="459" width="4" height="4" fill="#000"/>
<rect x="601" y="465" width="4" height="3" fill="#000"/>
<rect x="606" y="465" width="4" height="3" fill="#000"/>
<rect x="601" y="470" width="4" height="4" fill="#000"/>
<rect x="606" y="470" width="4" height="4" fill="#000"/>
<rect x="601" y="476" width="4" height="4" fill="#000"/>
<rect x="606" y="476" width="4" height="4" fill="#000"/>
<rect x="601" y="482" width="4" height="4" fill="#000"/>
<rect x="606" y="482" width="4" height="4" fill="#000"/>
<rect x="601" y="488" width="4" height="4" fill="#000"/>
<rect x="606" y="488" width="4" height="4" fill="#000"/>
<rect x="601" y="494" width="4" height="4" fill="#000"/>
<rect x="606" y="494" width="4" height="4" fill="#000"/>
<rect x="601" y="382" width="4" height="4" fill="#000"/>
<rect x="602" y="383" width="2" height="2" fill="#fff"/>
<rect x="625" y="381" width="13" height="118" fill="#000"/>
<rect x="626" y="382" width="1" height="116" fill="#fff"/>
<rect x="631" y="382" width="1" height="116" fill="#fff"/>
<rect x="626" y="387" width="11" height="1" fill="#fff"/>
<rect x="626" y="393" width="11" height="1" fill="#fff"/>
<rect x="626" y="399" width="11" height="1" fill="#fff"/>
<rect x="626" y="405" width="11" height="1" fill="#fff"/>
<rect x="626" y="410" width="11" height="1" fill="#fff"/>
<rect x="626" y="416" width="11" height="1" fill="#fff"/>
<rect x="626" y="422" width="11" height="1" fill="#fff"/>
<rect x="626" y="428" width="11" height="1" fill="#fff"/>
<rect x="626" y="434" width="11" height="1" fill="#fff"/>
<rect x="626" y="440" width="11" height="1" fill="#fff"/>
<rect x="626" y="446" width="11" height="1" fill="#fff"/>
<rect x="626" y="451" width="11" height="1" fill="#fff"/>
<rect x="626" y="457" width="11" height="1" fill="#fff"/>
<rect x="626" y="463" width="11" height="1" fill="#fff"/>
<rect x="626" y="469" width="11" height="1" fill="#fff"/>
<rect x="626" y="475" width="11" height="1" fill="#fff"/>
<rect x="626" y="481" width="11" height="1" fill="#fff"/>
<rect x="626" y="487" width="11" height="1" fill="#fff"/>
<rect x="626" y="492" width="11" height="1" fill="#fff"/>
<rect x="628" y="384" width="2" height="2" fill="#fff"/>
<rect x="651" y="396" width="13" height="77" fill="#000"/>
<rect x="652" y="397" width="1" height="75" fill="#fff"/>
<rect x="657" y="397" width="1" height="75" fill="#fff"/>
<rect x="652" y="401" width="11" height="1" fill="#fff"/>
<rect x="652" y="407" width="11" height="1" fill="#fff"/>
<rect x="652" y="413" width="11" height="1" fill="#fff"/>
<rect x="652" y="419" width="11" height="1" fill="#fff"/>
<rect x="652" y="424" width="11" height="1" fill="#fff"/>
<rect x="652" y="430" width="11" height="1" fill="#fff"/>
<rect x="652" y="436" width="11" height="1" fill="#fff"/>
<rect x="652" y="442" width="11" height="1" fill="#fff"/>
<rect x="652" y="448" width="11" height="1" fill="#fff"/>
<rect x="652" y="454" width="11" height="1" fill="#fff"/>
<rect x="652" y="460" width="11" height="1" fill="#fff"/>
<rect x="652" y="465" width="11" height="1" fill="#fff"/>
<rect x="654" y="398" width="2" height="2" fill="#fff"/>
<path d="M605 360H643L645 362V377L643 379H605L603 377V362Z" fill="#000"/>
<path d="M606 362H642L643 363V375L642 376H606L605 375V363Z" fill="#fff"/>
<polygon points="640.98,377.96 641.6,378.74 649.57,388.04 655.23,394.47 658,396.96 659.4,395.84 657.58,392.6 652.53,385.66 645.2,375.86 644.57,375.08" fill="#000"/>
<polygon points="640.42,375.33 642.62,377.93 653.72,390.98 654.5,390.36 644.18,376.67 642.13,373.96" fill="#fff"/>
<text transform="translate(607.9 373.9) scale(0.75 1)" font-size="14.5" letter-spacing="1.46" fill="#000" text-anchor="start" font-family="Liberation Sans, sans-serif">PRN1</text>
<path d="M559 508H597L599 510V525L597 527H559L557 525V510Z" fill="#000"/>
<path d="M560 511H595L596 512V523L595 524H560L559 523V512Z" fill="#fff"/>
<polygon points="598.14,511.54 598.83,510.81 602.64,505.85 605.32,502.39 606.16,500.61 604.84,499.39 603.13,500.34 599.86,503.25 595.17,507.39 594.49,508.12" fill="#000"/>
<polygon points="595.63,512.47 597.88,509.92 599.07,507.62 598.33,506.94 596.12,508.28 593.73,510.7" fill="#fff"/>
<text transform="translate(564.5 522.6) scale(0.75 1)" font-size="14.5" letter-spacing="0.9" fill="#000" text-anchor="start" font-family="Liberation Sans, sans-serif">IDE1</text>
<path d="M611 515H651L653 517V532L651 534H611L609 532V517Z" fill="#000"/>
<path d="M612 518H649L650 519V531L649 532H612L611 531V519Z" fill="#fff"/>
<polygon points="633.92,515.91 633.9,514.91 632.43,508.44 632.19,502.86 631.27,502.26 631.1,499.47 629.1,499.53 629.07,502.32 628.19,502.96 628.23,508.54 627.1,515.09 627.13,516.09" fill="#000"/>
<polygon points="631.84,518.37 631.6,514.97 630.82,508.01 629.82,508.04 629.4,515.03 629.34,518.43" fill="#fff"/>
<text transform="translate(617.6 529.8) scale(0.75 1)" font-size="14.5" letter-spacing="1.61" fill="#000" text-anchor="start" font-family="Liberation Sans, sans-serif">IDE2</text>
<rect x="568" y="389" width="24" height="112" fill="#000"/>
<rect x="569" y="390" width="22" height="110" fill="#fff"/>
<rect x="575" y="389" width="1" height="112" fill="#000"/>
<path d="M581.5 390V392.5H589.5V390" fill="none" stroke="#000" stroke-width="1"/>
<rect x="583" y="390" width="2" height="1" fill="#000"/>
<rect x="586" y="390" width="2" height="1" fill="#000"/>
<rect x="571" y="391" width="3" height="7" fill="#000"/>
<rect x="572" y="392" width="1" height="5" fill="#fff"/>
<rect x="574" y="393" width="1" height="4" fill="#000"/>
<rect x="578" y="391" width="2" height="7" fill="#000"/>
<rect x="571" y="400" width="3" height="7" fill="#000"/>
<rect x="572" y="401" width="1" height="5" fill="#fff"/>
<rect x="574" y="402" width="1" height="4" fill="#000"/>
<rect x="578" y="400" width="2" height="7" fill="#000"/>
<rect x="571" y="409" width="3" height="7" fill="#000"/>
<rect x="572" y="410" width="1" height="5" fill="#fff"/>
<rect x="574" y="412" width="1" height="3" fill="#000"/>
<rect x="578" y="409" width="2" height="7" fill="#000"/>
<rect x="571" y="419" width="3" height="6" fill="#000"/>
<rect x="572" y="420" width="1" height="4" fill="#fff"/>
<rect x="574" y="421" width="1" height="4" fill="#000"/>
<rect x="578" y="419" width="2" height="6" fill="#000"/>
<rect x="571" y="428" width="3" height="7" fill="#000"/>
<rect x="572" y="429" width="1" height="5" fill="#fff"/>
<rect x="574" y="430" width="1" height="4" fill="#000"/>
<rect x="578" y="428" width="2" height="7" fill="#000"/>
<rect x="571" y="437" width="3" height="7" fill="#000"/>
<rect x="572" y="438" width="1" height="5" fill="#fff"/>
<rect x="574" y="439" width="1" height="4" fill="#000"/>
<rect x="578" y="437" width="2" height="7" fill="#000"/>
<rect x="571" y="446" width="3" height="7" fill="#000"/>
<rect x="572" y="447" width="1" height="5" fill="#fff"/>
<rect x="574" y="448" width="1" height="4" fill="#000"/>
<rect x="578" y="446" width="2" height="7" fill="#000"/>
<rect x="571" y="455" width="3" height="7" fill="#000"/>
<rect x="572" y="456" width="1" height="5" fill="#fff"/>
<rect x="574" y="457" width="1" height="4" fill="#000"/>
<rect x="578" y="455" width="2" height="7" fill="#000"/>
<rect x="571" y="464" width="3" height="7" fill="#000"/>
<rect x="572" y="465" width="1" height="5" fill="#fff"/>
<rect x="574" y="467" width="1" height="3" fill="#000"/>
<rect x="578" y="464" width="2" height="7" fill="#000"/>
<rect x="571" y="474" width="3" height="6" fill="#000"/>
<rect x="572" y="475" width="1" height="4" fill="#fff"/>
<rect x="574" y="476" width="1" height="4" fill="#000"/>
<rect x="578" y="474" width="2" height="7" fill="#000"/>
<rect x="571" y="483" width="3" height="7" fill="#000"/>
<rect x="572" y="484" width="1" height="5" fill="#fff"/>
<rect x="574" y="485" width="1" height="4" fill="#000"/>
<rect x="578" y="483" width="2" height="7" fill="#000"/>
<rect x="571" y="492" width="3" height="7" fill="#000"/>
<rect x="572" y="493" width="1" height="5" fill="#fff"/>
<rect x="574" y="494" width="1" height="4" fill="#000"/>
<rect x="578" y="492" width="2" height="7" fill="#000"/>
<rect x="581" y="395" width="8" height="7" fill="#000"/>
<rect x="582" y="396" width="6" height="5" fill="#fff"/>
<rect x="581" y="404" width="8" height="7" fill="#000"/>
<rect x="582" y="405" width="6" height="5" fill="#fff"/>
<rect x="581" y="414" width="8" height="7" fill="#000"/>
<rect x="582" y="415" width="6" height="5" fill="#fff"/>
<rect x="581" y="423" width="8" height="7" fill="#000"/>
<rect x="582" y="424" width="6" height="5" fill="#fff"/>
<rect x="581" y="432" width="8" height="7" fill="#000"/>
<rect x="582" y="433" width="6" height="5" fill="#fff"/>
<rect x="581" y="441" width="8" height="7" fill="#000"/>
<rect x="582" y="442" width="6" height="5" fill="#fff"/>
<rect x="581" y="451" width="8" height="7" fill="#000"/>
<rect x="582" y="452" width="6" height="5" fill="#fff"/>
<rect x="581" y="460" width="8" height="7" fill="#000"/>
<rect x="582" y="461" width="6" height="5" fill="#fff"/>
<rect x="581" y="469" width="8" height="7" fill="#000"/>
<rect x="582" y="470" width="6" height="5" fill="#fff"/>
<rect x="581" y="479" width="8" height="7" fill="#000"/>
<rect x="582" y="480" width="6" height="5" fill="#fff"/>
<rect x="581" y="488" width="8" height="7" fill="#000"/>
<rect x="582" y="489" width="6" height="5" fill="#fff"/>
<rect x="581" y="498" width="8" height="2" fill="#000"/>
<rect x="583" y="498" width="1" height="1" fill="#fff"/>
<rect x="586" y="498" width="1" height="1" fill="#fff"/>
<path d="M76 344H115L117 346V361L115 363H76L74 361V346Z" fill="#000"/>
<path d="M77 346H114L115 347V359L114 360H77L76 359V347Z" fill="#fff"/>
<polygon points="91.23,361.91 91.2,362.91 92.43,369.24 92.39,374.65 93.27,375.27 93.3,377.97 95.3,378.03 95.47,375.33 96.39,374.75 96.63,369.36 98.2,363.09 98.23,362.09" fill="#000"/>
<polygon points="93.54,359.57 93.6,362.97 94.08,367.49 95.08,367.51 95.8,363.03 96.04,359.63" fill="#fff"/>
<text transform="translate(79.8 357.9) scale(0.75 1)" font-size="14.5" letter-spacing="1.33" fill="#000" text-anchor="start" font-family="Liberation Sans, sans-serif">FAN1</text>
<rect x="84" y="378" width="20" height="9" fill="#000"/>
<rect x="85" y="379" width="18" height="7" fill="#fff"/>
<rect x="86" y="380" width="4" height="4" fill="#000"/>
<rect x="91" y="380" width="4" height="4" fill="#000"/>
<rect x="98" y="380" width="4" height="4" fill="#000"/>
<rect x="59" y="403" width="13" height="101" fill="#000"/>
<rect x="65" y="404" width="1" height="99" fill="#fff"/>
<rect x="70" y="404" width="1" height="99" fill="#fff"/>
<rect x="60" y="409" width="11" height="1" fill="#fff"/>
<rect x="60" y="415" width="11" height="1" fill="#fff"/>
<rect x="60" y="421" width="11" height="1" fill="#fff"/>
<rect x="60" y="427" width="11" height="1" fill="#fff"/>
<rect x="60" y="433" width="11" height="1" fill="#fff"/>
<rect x="60" y="439" width="11" height="1" fill="#fff"/>
<rect x="60" y="445" width="11" height="1" fill="#fff"/>
<rect x="60" y="450" width="11" height="1" fill="#fff"/>
<rect x="60" y="456" width="11" height="1" fill="#fff"/>
<rect x="60" y="462" width="11" height="1" fill="#fff"/>
<rect x="60" y="468" width="11" height="1" fill="#fff"/>
<rect x="60" y="474" width="11" height="1" fill="#fff"/>
<rect x="60" y="480" width="11" height="1" fill="#fff"/>
<rect x="60" y="486" width="11" height="1" fill="#fff"/>
<rect x="60" y="492" width="11" height="1" fill="#fff"/>
<rect x="60" y="498" width="11" height="1" fill="#fff"/>
<rect x="61" y="405" width="3" height="3" fill="#fff"/>
<path d="M5 442H43L45 444V459L43 461H5L3 459V444Z" fill="#000"/>
<path d="M6 445H41L42 446V458L41 459H6L5 458V446Z" fill="#fff"/>
<polygon points="44,455.2 45,455.2 50.88,453.6 55.92,453.5 56.48,452.6 59,452.5 59,450.5 56.48,450.4 55.92,449.5 50.88,449.4 45,447.8 44,447.8" fill="#000"/>
<polygon points="41.6,452.75 45,452.6 51.16,452 51.16,451 45,450.4 41.6,450.25" fill="#fff"/>
<text transform="translate(8.6 457.1) scale(0.75 1)" font-size="14.5" letter-spacing="1.34" fill="#000" text-anchor="start" font-family="Liberation Sans, sans-serif">FDC1</text>
<rect x="82" y="397" width="23" height="111" fill="#000"/>
<rect x="83" y="398" width="21" height="109" fill="#fff"/>
<rect x="86" y="401" width="7" height="7" fill="#000"/>
<rect x="87" y="402" width="5" height="5" fill="#fff"/>
<rect x="95" y="401" width="8" height="7" fill="#000"/>
<rect x="96" y="402" width="6" height="5" fill="#fff"/>
<rect x="86" y="412" width="7" height="7" fill="#000"/>
<rect x="87" y="413" width="5" height="5" fill="#fff"/>
<rect x="95" y="412" width="8" height="7" fill="#000"/>
<rect x="96" y="413" width="6" height="5" fill="#fff"/>
<rect x="86" y="422" width="7" height="7" fill="#000"/>
<rect x="87" y="423" width="5" height="5" fill="#fff"/>
<rect x="95" y="422" width="8" height="7" fill="#000"/>
<rect x="96" y="423" width="6" height="5" fill="#fff"/>
<rect x="86" y="433" width="7" height="7" fill="#000"/>
<rect x="87" y="434" width="5" height="5" fill="#fff"/>
<rect x="95" y="433" width="8" height="7" fill="#000"/>
<rect x="96" y="434" width="6" height="5" fill="#fff"/>
<rect x="86" y="443" width="7" height="7" fill="#000"/>
<rect x="87" y="444" width="5" height="5" fill="#fff"/>
<rect x="95" y="443" width="8" height="7" fill="#000"/>
<rect x="96" y="444" width="6" height="5" fill="#fff"/>
<rect x="86" y="454" width="7" height="7" fill="#000"/>
<rect x="87" y="455" width="5" height="5" fill="#fff"/>
<rect x="95" y="454" width="8" height="7" fill="#000"/>
<rect x="96" y="455" width="6" height="5" fill="#fff"/>
<rect x="86" y="464" width="7" height="7" fill="#000"/>
<rect x="87" y="465" width="5" height="5" fill="#fff"/>
<rect x="95" y="464" width="8" height="7" fill="#000"/>
<rect x="96" y="465" width="6" height="5" fill="#fff"/>
<rect x="86" y="475" width="7" height="7" fill="#000"/>
<rect x="87" y="476" width="5" height="5" fill="#fff"/>
<rect x="95" y="475" width="8" height="7" fill="#000"/>
<rect x="96" y="476" width="6" height="5" fill="#fff"/>
<rect x="86" y="485" width="7" height="7" fill="#000"/>
<rect x="87" y="486" width="5" height="5" fill="#fff"/>
<rect x="95" y="485" width="8" height="7" fill="#000"/>
<rect x="96" y="486" width="6" height="5" fill="#fff"/>
<rect x="86" y="496" width="7" height="7" fill="#000"/>
<rect x="87" y="497" width="5" height="5" fill="#fff"/>
<rect x="95" y="496" width="8" height="7" fill="#000"/>
<rect x="96" y="497" width="6" height="5" fill="#fff"/>
<path d="M79 522H109L111 524V539L109 541H79L77 539V524Z" fill="#000"/>
<path d="M80 524H108L109 525V537L108 538H80L79 537V525Z" fill="#fff"/>
<polygon points="96.95,522.81 96.89,521.81 95.22,514.96 94.8,509.02 93.86,508.41 93.6,505.45 91.6,505.55 91.66,508.53 90.8,509.24 91.03,515.18 90.11,522.19 90.16,523.18" fill="#000"/>
<polygon points="94.93,525.33 94.6,521.94 93.59,514.55 92.6,514.6 92.4,522.06 92.44,525.46" fill="#fff"/>
<text transform="translate(82.95 535.8) scale(0.75 1)" font-size="14.5" letter-spacing="1.34" fill="#000" text-anchor="start" font-family="Liberation Sans, sans-serif">ATX</text>
<rect x="143" y="427" width="27" height="99" fill="#000"/>
<rect x="486" y="427" width="27" height="99" fill="#000"/>
<rect x="170" y="460" width="316" height="33" fill="#000"/>
<path d="M165.5 459.5H144.5V492.5H165.5V489.5H146.5V462.5H165.5Z" fill="none" stroke="#fff" stroke-width="1"/>
<path d="M489.5 460.5H511.5V492.5H489.5V489.5H509.5V463.5H489.5Z" fill="none" stroke="#fff" stroke-width="1"/>
<g shape-rendering="geometricPrecision"><circle cx="156.6" cy="438.4" r="6.7" fill="#fff"/><ellipse cx="156.6" cy="438.4" rx="1.9" ry="5.6" transform="rotate(27 156.6 438.4)" fill="#000"/></g>
<g shape-rendering="geometricPrecision"><circle cx="156.5" cy="512.3" r="6.7" fill="#fff"/><ellipse cx="156.5" cy="512.3" rx="2.6" ry="5.2" transform="rotate(27 156.5 512.3)" fill="#000"/></g>
<g shape-rendering="geometricPrecision"><circle cx="500.5" cy="440.3" r="6.6" fill="#fff"/><ellipse cx="500.5" cy="440.3" rx="3.0" ry="4.6" transform="rotate(25 500.5 440.3)" fill="#000"/></g>
<g shape-rendering="geometricPrecision"><circle cx="501.4" cy="512.3" r="6.5" fill="#fff"/><ellipse cx="501.4" cy="512.3" rx="2.8" ry="4.6" transform="rotate(20 501.4 512.3)" fill="#000"/></g>
<rect x="176" y="472" width="1" height="4" fill="#fff"/>
<rect x="176" y="479" width="1" height="4" fill="#fff"/>
<rect x="179" y="472" width="1" height="4" fill="#fff"/>
<rect x="179" y="479" width="1" height="4" fill="#fff"/>
<rect x="182" y="472" width="2" height="4" fill="#fff"/>
<rect x="182" y="479" width="1" height="4" fill="#fff"/>
<rect x="185" y="472" width="2" height="4" fill="#fff"/>
<rect x="185" y="479" width="1" height="4" fill="#fff"/>
<rect x="188" y="472" width="1" height="4" fill="#fff"/>
<rect x="188" y="479" width="2" height="4" fill="#fff"/>
<rect x="191" y="472" width="1" height="4" fill="#fff"/>
<rect x="191" y="479" width="2" height="4" fill="#fff"/>
<rect x="194" y="472" width="1" height="4" fill="#fff"/>
<rect x="194" y="479" width="1" height="4" fill="#fff"/>
<rect x="197" y="472" width="1" height="4" fill="#fff"/>
<rect x="197" y="479" width="1" height="4" fill="#fff"/>
<rect x="200" y="472" width="2" height="4" fill="#fff"/>
<rect x="200" y="479" width="1" height="4" fill="#fff"/>
<rect x="203" y="472" width="2" height="4" fill="#fff"/>
<rect x="203" y="479" width="1" height="4" fill="#fff"/>
<rect x="206" y="472" width="1" height="4" fill="#fff"/>
<rect x="206" y="479" width="2" height="4" fill="#fff"/>
<rect x="209" y="472" width="1" height="4" fill="#fff"/>
<rect x="209" y="479" width="2" height="4" fill="#fff"/>
<rect x="212" y="472" width="1" height="4" fill="#fff"/>
<rect x="212" y="479" width="1" height="4" fill="#fff"/>
<rect x="215" y="472" width="1" height="4" fill="#fff"/>
<rect x="215" y="479" width="1" height="4" fill="#fff"/>
<rect x="218" y="472" width="2" height="4" fill="#fff"/>
<rect x="218" y="479" width="1" height="4" fill="#fff"/>
<rect x="221" y="472" width="2" height="4" fill="#fff"/>
<rect x="221" y="479" width="1" height="4" fill="#fff"/>
<rect x="224" y="472" width="1" height="4" fill="#fff"/>
<rect x="224" y="479" width="2" height="4" fill="#fff"/>
<rect x="227" y="472" width="1" height="4" fill="#fff"/>
<rect x="227" y="479" width="2" height="4" fill="#fff"/>
<rect x="230" y="472" width="1" height="4" fill="#fff"/>
<rect x="230" y="479" width="1" height="4" fill="#fff"/>
<rect x="233" y="472" width="1" height="4" fill="#fff"/>
<rect x="233" y="479" width="1" height="4" fill="#fff"/>
<rect x="236" y="472" width="2" height="4" fill="#fff"/>
<rect x="236" y="479" width="1" height="4" fill="#fff"/>
<rect x="239" y="472" width="2" height="4" fill="#fff"/>
<rect x="239" y="479" width="1" height="4" fill="#fff"/>
<rect x="242" y="472" width="1" height="4" fill="#fff"/>
<rect x="242" y="479" width="2" height="4" fill="#fff"/>
<rect x="245" y="472" width="1" height="4" fill="#fff"/>
<rect x="245" y="479" width="2" height="4" fill="#fff"/>
<rect x="248" y="472" width="1" height="4" fill="#fff"/>
<rect x="248" y="479" width="1" height="4" fill="#fff"/>
<rect x="251" y="472" width="1" height="4" fill="#fff"/>
<rect x="251" y="479" width="1" height="4" fill="#fff"/>
<rect x="254" y="472" width="2" height="4" fill="#fff"/>
<rect x="254" y="479" width="1" height="4" fill="#fff"/>
<rect x="257" y="472" width="2" height="4" fill="#fff"/>
<rect x="257" y="479" width="1" height="4" fill="#fff"/>
<rect x="260" y="472" width="1" height="4" fill="#fff"/>
<rect x="260" y="479" width="2" height="4" fill="#fff"/>
<rect x="263" y="472" width="1" height="4" fill="#fff"/>
<rect x="263" y="479" width="2" height="4" fill="#fff"/>
<rect x="266" y="472" width="1" height="4" fill="#fff"/>
<rect x="266" y="479" width="1" height="4" fill="#fff"/>
<rect x="269" y="472" width="1" height="4" fill="#fff"/>
<rect x="269" y="479" width="1" height="4" fill="#fff"/>
<rect x="272" y="472" width="2" height="4" fill="#fff"/>
<rect x="272" y="479" width="1" height="4" fill="#fff"/>
<rect x="275" y="472" width="2" height="4" fill="#fff"/>
<rect x="275" y="479" width="1" height="4" fill="#fff"/>
<rect x="278" y="472" width="1" height="4" fill="#fff"/>
<rect x="278" y="479" width="2" height="4" fill="#fff"/>
<rect x="281" y="472" width="1" height="4" fill="#fff"/>
<rect x="281" y="479" width="2" height="4" fill="#fff"/>
<rect x="284" y="472" width="1" height="4" fill="#fff"/>
<rect x="284" y="479" width="1" height="4" fill="#fff"/>
<rect x="287" y="472" width="1" height="4" fill="#fff"/>
<rect x="287" y="479" width="1" height="4" fill="#fff"/>
<rect x="290" y="472" width="2" height="4" fill="#fff"/>
<rect x="290" y="479" width="1" height="4" fill="#fff"/>
<rect x="293" y="472" width="2" height="4" fill="#fff"/>
<rect x="293" y="479" width="1" height="4" fill="#fff"/>
<rect x="296" y="472" width="1" height="4" fill="#fff"/>
<rect x="296" y="479" width="2" height="4" fill="#fff"/>
<rect x="299" y="472" width="1" height="4" fill="#fff"/>
<rect x="299" y="479" width="2" height="4" fill="#fff"/>
<rect x="302" y="472" width="1" height="4" fill="#fff"/>
<rect x="302" y="479" width="1" height="4" fill="#fff"/>
<rect x="305" y="472" width="1" height="4" fill="#fff"/>
<rect x="305" y="479" width="1" height="4" fill="#fff"/>
<rect x="308" y="472" width="2" height="4" fill="#fff"/>
<rect x="308" y="479" width="1" height="4" fill="#fff"/>
<rect x="311" y="472" width="2" height="4" fill="#fff"/>
<rect x="311" y="479" width="1" height="4" fill="#fff"/>
<rect x="347" y="472" width="1" height="4" fill="#fff"/>
<rect x="347" y="479" width="1" height="4" fill="#fff"/>
<rect x="350" y="472" width="1" height="4" fill="#fff"/>
<rect x="350" y="479" width="1" height="4" fill="#fff"/>
<rect x="353" y="472" width="2" height="4" fill="#fff"/>
<rect x="353" y="479" width="1" height="4" fill="#fff"/>
<rect x="356" y="472" width="2" height="4" fill="#fff"/>
<rect x="356" y="479" width="1" height="4" fill="#fff"/>
<rect x="359" y="472" width="1" height="4" fill="#fff"/>
<rect x="359" y="479" width="2" height="4" fill="#fff"/>
<rect x="362" y="472" width="1" height="4" fill="#fff"/>
<rect x="362" y="479" width="2" height="4" fill="#fff"/>
<rect x="365" y="472" width="1" height="4" fill="#fff"/>
<rect x="365" y="479" width="1" height="4" fill="#fff"/>
<rect x="368" y="472" width="1" height="4" fill="#fff"/>
<rect x="368" y="479" width="1" height="4" fill="#fff"/>
<rect x="371" y="472" width="2" height="4" fill="#fff"/>
<rect x="371" y="479" width="1" height="4" fill="#fff"/>
<rect x="374" y="472" width="2" height="4" fill="#fff"/>
<rect x="374" y="479" width="1" height="4" fill="#fff"/>
<rect x="377" y="472" width="1" height="4" fill="#fff"/>
<rect x="377" y="479" width="2" height="4" fill="#fff"/>
<rect x="380" y="472" width="1" height="4" fill="#fff"/>
<rect x="380" y="479" width="2" height="4" fill="#fff"/>
<rect x="383" y="472" width="1" height="4" fill="#fff"/>
<rect x="383" y="479" width="1" height="4" fill="#fff"/>
<rect x="386" y="472" width="1" height="4" fill="#fff"/>
<rect x="386" y="479" width="1" height="4" fill="#fff"/>
<rect x="389" y="472" width="2" height="4" fill="#fff"/>
<rect x="389" y="479" width="1" height="4" fill="#fff"/>
<rect x="392" y="472" width="2" height="4" fill="#fff"/>
<rect x="392" y="479" width="1" height="4" fill="#fff"/>
<rect x="395" y="472" width="1" height="4" fill="#fff"/>
<rect x="395" y="479" width="2" height="4" fill="#fff"/>
<rect x="398" y="472" width="1" height="4" fill="#fff"/>
<rect x="398" y="479" width="2" height="4" fill="#fff"/>
<rect x="401" y="472" width="1" height="4" fill="#fff"/>
<rect x="401" y="479" width="1" height="4" fill="#fff"/>
<rect x="404" y="472" width="1" height="4" fill="#fff"/>
<rect x="404" y="479" width="1" height="4" fill="#fff"/>
<rect x="407" y="472" width="2" height="4" fill="#fff"/>
<rect x="407" y="479" width="1" height="4" fill="#fff"/>
<rect x="410" y="472" width="2" height="4" fill="#fff"/>
<rect x="410" y="479" width="1" height="4" fill="#fff"/>
<rect x="413" y="472" width="1" height="4" fill="#fff"/>
<rect x="413" y="479" width="2" height="4" fill="#fff"/>
<rect x="416" y="472" width="1" height="4" fill="#fff"/>
<rect x="416" y="479" width="2" height="4" fill="#fff"/>
<rect x="419" y="472" width="1" height="4" fill="#fff"/>
<rect x="419" y="479" width="1" height="4" fill="#fff"/>
<rect x="422" y="472" width="1" height="4" fill="#fff"/>
<rect x="422" y="479" width="1" height="4" fill="#fff"/>
<rect x="425" y="472" width="2" height="4" fill="#fff"/>
<rect x="425" y="479" width="1" height="4" fill="#fff"/>
<rect x="428" y="472" width="2" height="4" fill="#fff"/>
<rect x="428" y="479" width="1" height="4" fill="#fff"/>
<rect x="431" y="472" width="1" height="4" fill="#fff"/>
<rect x="431" y="479" width="2" height="4" fill="#fff"/>
<rect x="434" y="472" width="1" height="4" fill="#fff"/>
<rect x="434" y="479" width="2" height="4" fill="#fff"/>
<rect x="437" y="472" width="1" height="4" fill="#fff"/>
<rect x="437" y="479" width="1" height="4" fill="#fff"/>
<rect x="440" y="472" width="1" height="4" fill="#fff"/>
<rect x="440" y="479" width="1" height="4" fill="#fff"/>
<rect x="443" y="472" width="2" height="4" fill="#fff"/>
<rect x="443" y="479" width="1" height="4" fill="#fff"/>
<rect x="446" y="472" width="2" height="4" fill="#fff"/>
<rect x="446" y="479" width="1" height="4" fill="#fff"/>
<rect x="449" y="472" width="1" height="4" fill="#fff"/>
<rect x="449" y="479" width="2" height="4" fill="#fff"/>
<rect x="452" y="472" width="1" height="4" fill="#fff"/>
<rect x="452" y="479" width="2" height="4" fill="#fff"/>
<rect x="455" y="472" width="1" height="4" fill="#fff"/>
<rect x="455" y="479" width="1" height="4" fill="#fff"/>
<rect x="458" y="472" width="1" height="4" fill="#fff"/>
<rect x="458" y="479" width="1" height="4" fill="#fff"/>
<rect x="461" y="472" width="2" height="4" fill="#fff"/>
<rect x="461" y="479" width="1" height="4" fill="#fff"/>
<rect x="464" y="472" width="2" height="4" fill="#fff"/>
<rect x="464" y="479" width="1" height="4" fill="#fff"/>
<rect x="467" y="472" width="1" height="4" fill="#fff"/>
<rect x="467" y="479" width="2" height="4" fill="#fff"/>
<rect x="470" y="472" width="1" height="4" fill="#fff"/>
<rect x="470" y="479" width="2" height="4" fill="#fff"/>
<rect x="473" y="472" width="1" height="4" fill="#fff"/>
<rect x="473" y="479" width="1" height="4" fill="#fff"/>
<rect x="476" y="472" width="1" height="4" fill="#fff"/>
<rect x="476" y="479" width="1" height="4" fill="#fff"/>
<rect x="479" y="472" width="2" height="4" fill="#fff"/>
<rect x="479" y="479" width="1" height="4" fill="#fff"/>
<path d="M317 471H343.8L344.8 472V484L343.8 485H317L316 484V472Z" fill="#fff"/>
<text transform="translate(318 483.7) scale(0.75 1)" font-size="14.5" letter-spacing="1.7" fill="#000" text-anchor="start" font-family="Liberation Sans, sans-serif">CPU</text>
</svg></body></html>
